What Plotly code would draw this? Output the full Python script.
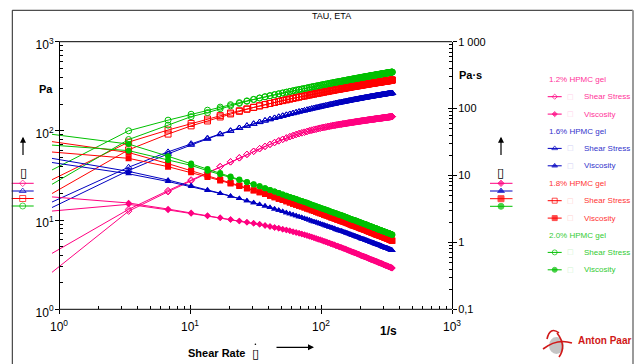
import plotly.graph_objects as go

# ---------------- data ----------------
# first entry is the start-up point of each run, lying left of the visible range
shear_rate = [0.1, 3.4, 6.8, 10.2, 13.6, 17.0, 20.4, 23.8, 27.2, 30.6, 34.0, 37.4, 40.8, 44.2, 47.6,
              51.0, 54.4, 57.8, 61.2, 64.6, 68.0, 71.4, 74.8, 78.2, 81.6, 85.0, 88.4, 91.8, 95.2,
              98.6, 102.0, 105.4, 108.8, 112.2, 115.6, 119.0, 122.4, 125.8, 129.2, 132.6, 136.0,
              139.4, 142.8, 146.2, 149.6, 153.0, 156.4, 159.8, 163.2, 166.6, 170.0, 173.4, 176.8,
              180.2, 183.6, 187.0, 190.4, 193.8, 197.2, 200.6, 204.0, 207.4, 210.8, 214.2, 217.6,
              221.0, 224.4, 227.8, 231.2, 234.6, 238.0, 241.4, 244.8, 248.2, 251.6, 255.0, 258.4,
              261.8, 265.2, 268.6, 272.0, 275.4, 278.8, 282.2, 285.6, 289.0, 292.4, 295.8, 299.2,
              302.6, 306.0, 309.4, 312.8, 316.2, 319.6, 323.0, 326.4, 329.8, 333.2, 336.6, 340.0,
              343.4, 346.8, 350.2]

# 1.2 % HPMC gel
tau_12_a = [0.673, 13.20, 21.43, 28.18, 34.28, 39.81, 44.98, 49.89, 54.58, 59.02, 63.24, 67.04, 70.63,
            74.05, 77.30, 80.39, 83.29, 86.04, 88.63, 91.05, 93.33, 95.06, 96.80, 98.53, 100.3, 102.0,
            103.3, 104.6, 106.0, 107.3, 108.6, 109.6, 110.6, 111.6, 112.6, 113.6, 114.4, 115.2, 116.1,
            116.9, 117.7, 118.4, 119.0, 119.7, 120.3, 121.0, 121.6, 122.3, 122.9, 123.6, 124.2, 124.7,
            125.2, 125.8, 126.3, 126.8, 127.3, 127.8, 128.4, 128.9, 129.4, 129.8, 130.3, 130.7, 131.2,
            131.6, 132.0, 132.5, 132.9, 133.4, 133.8, 134.2, 134.5, 134.9, 135.3, 135.7, 136.0, 136.4,
            136.8, 137.1, 137.5, 137.8, 138.2, 138.5, 138.8, 139.2, 139.5, 139.8, 140.1, 140.5, 140.8,
            141.1, 141.4, 141.7, 142.0, 142.4, 142.7, 143.0, 143.3, 143.6, 143.9, 144.2, 144.4, 144.7]
eta_12_a = [6.73, 3.88, 3.151, 2.763, 2.521, 2.342, 2.205, 2.096, 2.007, 1.929, 1.860, 1.792, 1.731,
            1.675, 1.624, 1.576, 1.531, 1.489, 1.448, 1.410, 1.373, 1.338, 1.304, 1.269, 1.235, 1.200,
            1.173, 1.146, 1.118, 1.091, 1.064, 1.042, 1.020, 0.999, 0.977, 0.955, 0.937, 0.919, 0.902,
            0.884, 0.866, 0.853, 0.839, 0.826, 0.812, 0.799, 0.785, 0.772, 0.758, 0.745, 0.731, 0.721,
            0.712, 0.702, 0.692, 0.683, 0.673, 0.663, 0.653, 0.644, 0.634, 0.627, 0.620, 0.612, 0.605,
            0.598, 0.591, 0.584, 0.576, 0.569, 0.562, 0.556, 0.551, 0.545, 0.540, 0.534, 0.528, 0.523,
            0.517, 0.512, 0.506, 0.501, 0.497, 0.492, 0.488, 0.483, 0.478, 0.474, 0.469, 0.465, 0.460,
            0.456, 0.453, 0.449, 0.445, 0.442, 0.438, 0.434, 0.430, 0.427, 0.423, 0.420, 0.416, 0.413]
tau_12_b = [0.2017, 12.6, 20.8, 27.6, 33.9, 39.81, 44.98, 49.89, 54.58, 59.02] + tau_12_a[10:]
eta_12_b = [2.02, 3.71, 3.06, 2.71, 2.49, 2.342, 2.205, 2.096, 2.007, 1.929] + eta_12_a[10:]

# 1.6 % HPMC gel
tau_16_a = [3.72, 39.16, 58.17, 72.0, 83.1, 92.5, 100.6, 107.8, 114.3, 120.2, 125.6, 130.6, 135.3,
            139.7, 143.8, 147.6, 151.3, 154.8, 158.1, 161.2, 164.3, 167.0, 169.6, 172.3, 174.9, 177.6,
            179.8, 182.0, 184.3, 186.5, 188.7, 190.6, 192.5, 194.5, 196.4, 198.3, 200.0, 201.7, 203.3,
            205.0, 206.7, 208.1, 209.5, 210.9, 212.3, 213.7, 215.1, 216.5, 217.9, 219.3, 220.7, 221.8,
            223.0, 224.1, 225.3, 226.4, 227.5, 228.7, 229.8, 231.0, 232.1, 233.1, 234.0, 235.0, 236.0,
            237.0, 237.9, 238.9, 239.9, 240.8, 241.8, 242.6, 243.5, 244.3, 245.1, 246.0, 246.8, 247.6,
            248.4, 249.3, 250.1, 250.8, 251.6, 252.3, 253.0, 253.8, 254.5, 255.2, 255.9, 256.7, 257.4,
            258.0, 258.7, 259.3, 260.0, 260.6, 261.2, 261.9, 262.5, 263.2, 263.8, 264.4, 265.1, 265.7]
eta_16_a = [37.2, 11.52, 8.55, 7.06, 6.11, 5.44, 4.93, 4.53, 4.20, 3.93, 3.69, 3.49, 3.32, 3.16, 3.02,
            2.895, 2.782, 2.678, 2.583, 2.496, 2.415, 2.350, 2.285, 2.219, 2.154, 2.089, 2.041, 1.993,
            1.946, 1.898, 1.850, 1.813, 1.776, 1.740, 1.703, 1.666, 1.637, 1.608, 1.578, 1.549, 1.520,
            1.498, 1.476, 1.453, 1.431, 1.409, 1.387, 1.365, 1.342, 1.320, 1.298, 1.282, 1.266, 1.250,
            1.234, 1.218, 1.202, 1.186, 1.170, 1.154, 1.138, 1.126, 1.114, 1.101, 1.089, 1.077, 1.065,
            1.053, 1.040, 1.028, 1.016, 1.006, 0.997, 0.987, 0.977, 0.968, 0.958, 0.948, 0.938, 0.929,
            0.919, 0.911, 0.903, 0.896, 0.888, 0.880, 0.872, 0.864, 0.857, 0.849, 0.841, 0.835, 0.828,
            0.822, 0.815, 0.809, 0.802, 0.796, 0.789, 0.783, 0.776, 0.770, 0.765, 0.759]
tau_16_b = [2.94, 36.0, 55.3, 69.8, 81.4, 91.6, 100.1, 107.8, 114.3, 120.2] + tau_16_a[10:]
eta_16_b = [29.4, 10.59, 8.13, 6.84, 5.99, 5.39, 4.91, 4.53, 4.20, 3.93] + eta_16_a[10:]

# 1.8 % HPMC gel
tau_18_a = [5.90, 74.9, 102.3, 121.2, 136.0, 148.4, 158.9, 168.2, 176.5, 184.1, 190.9, 197.3, 203.2,
            208.7, 213.9, 218.8, 223.4, 227.8, 232.0, 235.9, 239.8, 243.2, 246.5, 249.9, 253.2, 256.6,
            259.4, 262.2, 265.0, 267.8, 270.6, 273.0, 275.5, 277.9, 280.4, 282.8, 284.9, 287.0, 289.2,
            291.3, 293.4, 295.2, 297.1, 298.9, 300.7, 302.6, 304.4, 306.2, 308.0, 309.9, 311.7, 313.2,
            314.7, 316.2, 317.7, 319.2, 320.7, 322.2, 323.7, 325.2, 326.7, 328.0, 329.2, 330.5, 331.8,
            333.1, 334.3, 335.6, 336.9, 338.1, 339.4, 340.5, 341.6, 342.7, 343.8, 345.0, 346.1, 347.2,
            348.3, 349.4, 350.5, 351.5, 352.5, 353.4, 354.4, 355.4, 356.4, 357.4, 358.3, 359.3, 360.3,
            361.2, 362.1, 362.9, 363.8, 364.7, 365.6, 366.5, 367.3, 368.2, 369.1, 369.9, 370.8, 371.6]
eta_18_a = [59.0, 22.04, 15.04, 11.88, 10.00, 8.73, 7.79, 7.07, 6.49, 6.02, 5.62, 5.28, 4.98, 4.72,
            4.49, 4.29, 4.11, 3.94, 3.79, 3.65, 3.53, 3.428, 3.326, 3.224, 3.122, 3.02, 2.947, 2.874,
            2.800, 2.727, 2.654, 2.599, 2.543, 2.488, 2.432, 2.377, 2.333, 2.289, 2.246, 2.202, 2.158,
            2.126, 2.093, 2.061, 2.028, 1.996, 1.963, 1.931, 1.898, 1.866, 1.833, 1.810, 1.787, 1.763,
            1.740, 1.717, 1.694, 1.671, 1.647, 1.624, 1.601, 1.584, 1.566, 1.549, 1.531, 1.514, 1.496,
            1.479, 1.461, 1.444, 1.426, 1.412, 1.398, 1.385, 1.371, 1.357, 1.343, 1.329, 1.316, 1.302,
            1.288, 1.277, 1.266, 1.255, 1.244, 1.233, 1.222, 1.211, 1.200, 1.189, 1.178, 1.169, 1.160,
            1.150, 1.141, 1.132, 1.123, 1.114, 1.104, 1.095, 1.086, 1.078, 1.069, 1.061]
tau_18_b = [3.19, 61.4, 92.1, 113.9, 129.2, 143.2, 154.9, 165.7, 174.7, 183.2] + tau_18_a[10:]
eta_18_b = [31.9, 18.06, 13.54, 11.17, 9.50, 8.42, 7.59, 6.96, 6.42, 5.99] + eta_18_a[10:]

# 2.0 % HPMC gel
tau_20_a = [7.10, 100.3, 131.9, 153.7, 170.7, 184.8, 196.8, 207.6, 217.1, 225.8, 233.8, 241.2, 248.0,
            254.5, 260.4, 266.2, 271.6, 276.7, 281.6, 286.4, 290.8, 294.8, 298.9, 302.9, 307.0, 311.0,
            314.4, 317.8, 321.3, 324.7, 328.1, 331.0, 334.0, 336.9, 339.9, 342.8, 345.4, 348.1, 350.7,
            353.4, 356.0, 358.3, 360.5, 362.8, 365.0, 367.3, 369.6, 371.8, 374.1, 376.3, 378.6, 380.5,
            382.4, 384.3, 386.2, 388.1, 389.9, 391.8, 393.7, 395.6, 397.5, 399.2, 400.8, 402.5, 404.1,
            405.8, 407.4, 409.1, 410.7, 412.4, 414.0, 415.5, 416.9, 418.4, 419.8, 421.3, 422.7, 424.2,
            425.6, 427.1, 428.5, 429.8, 431.1, 432.4, 433.7, 435.0, 436.2, 437.5, 438.8, 440.1, 441.4,
            442.6, 443.7, 444.9, 446.1, 447.3, 448.4, 449.6, 450.8, 451.9, 453.1, 454.2, 455.4, 456.5]
eta_20_a = [71.0, 29.5, 19.40, 15.07, 12.55, 10.87, 9.65, 8.72, 7.98, 7.38, 6.88, 6.45, 6.08, 5.76,
            5.47, 5.22, 4.99, 4.79, 4.60, 4.44, 4.28, 4.156, 4.032, 3.908, 3.784, 3.66, 3.571, 3.482,
            3.394, 3.305, 3.216, 3.149, 3.082, 3.014, 2.947, 2.880, 2.828, 2.775, 2.723, 2.670, 2.618,
            2.579, 2.540, 2.501, 2.462, 2.423, 2.383, 2.344, 2.305, 2.266, 2.227, 2.199, 2.171, 2.144,
            2.116, 2.088, 2.060, 2.032, 2.005, 1.977, 1.949, 1.928, 1.907, 1.886, 1.865, 1.844, 1.823,
            1.802, 1.781, 1.760, 1.739, 1.723, 1.706, 1.690, 1.673, 1.657, 1.641, 1.624, 1.608, 1.591,
            1.575, 1.562, 1.549, 1.535, 1.522, 1.509, 1.496, 1.483, 1.469, 1.456, 1.443, 1.432, 1.421,
            1.410, 1.399, 1.388, 1.376, 1.365, 1.354, 1.343, 1.332, 1.322, 1.313, 1.303]
tau_20_b = [3.88, 80.0, 116.0, 144.5, 160.5, 177.4, 190.9, 203.4, 214.9, 224.7] + tau_20_a[10:]
eta_20_b = [38.8, 23.53, 17.06, 14.17, 11.80, 10.44, 9.36, 8.55, 7.90, 7.34] + eta_20_a[10:]

sample_names = ["1.2% HPMC gel", "1.6% HPMC gel", "1.8% HPMC gel", "2.0% HPMC gel"]
x_tick_vals = [1, 10, 100, 1000]
x_tick_text = ["10<sup>0</sup>", "10<sup>1</sup>", "10<sup>2</sup>", "10<sup>3</sup>"]
tau_tick_vals = [1, 10, 100, 1000]
tau_tick_text = ["10<sup>0</sup>", "10<sup>1</sup>", "10<sup>2</sup>", "10<sup>3</sup>"]
eta_tick_vals = [0.1, 1, 10, 100, 1000]
eta_tick_text = ["0,1", "1", "10", "100", "1 000"]

# ---------------- styling ----------------
W, H = 639, 364
FONT = "Arial, Liberation Sans, sans-serif"


def px(x):
    return x / W


def py(y):
    return 1 - y / H


PINK, BLUE, RED, GREEN = "#FF0080", "#0000C0", "#FF0000", "#00C000"
TXT = {PINK: "#FF3399", BLUE: "#3333CC", RED: "#FF3333", GREEN: "#33CC33"}
LIGHT = {PINK: "#FFD0E8", BLUE: "#D0D0F4", RED: "#FFD0D0", GREEN: "#D0F4D0"}

samples = [
    (PINK, "diamond", 5, tau_12_a, tau_12_b, eta_12_a, eta_12_b),
    (BLUE, "triangle-up", 6, tau_16_a, tau_16_b, eta_16_a, eta_16_b),
    (RED, "square", 6, tau_18_a, tau_18_b, eta_18_a, eta_18_b),
    (GREEN, "circle", 6, tau_20_a, tau_20_b, eta_20_a, eta_20_b),
]

fig = go.Figure()
for col, sym, size, ta, tb, ea, eb in samples:
    for t in (ta, tb):
        fig.add_trace(go.Scatter(
            x=shear_rate, y=t, mode="lines+markers", xaxis="x", yaxis="y",
            line=dict(color=col, width=1),
            marker=dict(symbol=sym + "-open", size=size, color=col, line=dict(color=col, width=1)),
            hoverinfo="skip", showlegend=False))
    for e in (ea, eb):
        fig.add_trace(go.Scatter(
            x=shear_rate, y=e, mode="lines+markers", xaxis="x", yaxis="y2",
            line=dict(color=col, width=1),
            marker=dict(symbol=sym, size=size, color=col, line=dict(width=0)),
            hoverinfo="skip", showlegend=False))

# empty traces so the helper axes (crossing ticks) are drawn
fig.add_trace(go.Scatter(x=[], y=[], xaxis="x", yaxis="y3", showlegend=False))
fig.add_trace(go.Scatter(x=[], y=[], xaxis="x", yaxis="y4", showlegend=False))
fig.add_trace(go.Scatter(x=[], y=[], xaxis="x2", yaxis="y", showlegend=False))

# ---------------- key swatches (pixel overlay axis) ----------------
left_key_y = [183.3, 191.0, 198.5, 206.0]
right_key_y = [183.3, 191.0, 198.7, 206.3]
legend_title_y = [79.3, 131.0, 183.3, 235.0]
ROW = 17.4
for i, (col, sym, size, *_r) in enumerate(samples):
    for xs, yy, s in (([11.7, 22.7, 33.7], left_key_y[i], sym + "-open"),
                      ([490.0, 501.0, 512.5], right_key_y[i], sym)):
        fig.add_trace(go.Scatter(
            x=xs, y=[yy] * 3, mode="lines+markers", xaxis="x9", yaxis="y9",
            line=dict(color=col, width=1),
            marker=dict(symbol=s, size=[0, size, 0], color=col, line=dict(color=col, width=1)),
            hoverinfo="skip", showlegend=False))
    for j, s in enumerate((sym + "-open", sym)):
        yy = legend_title_y[i] + ROW * (j + 1)
        fig.add_trace(go.Scatter(
            x=[547.7, 554.7, 561.7], y=[yy] * 3, mode="lines+markers", xaxis="x9", yaxis="y9",
            line=dict(color=col, width=1),
            marker=dict(symbol=s, size=[0, size - 1, 0], color=col, line=dict(color=col, width=1)),
            hoverinfo="skip", showlegend=False))

minor_dec = [m * 10.0 ** e for e in range(-1, 3) for m in range(2, 10)]

axis_common = dict(type="log", showgrid=False, zeroline=False, tickcolor="black", linecolor="black",
                   linewidth=1, automargin=False)

fig.update_layout(
    width=W, height=H, margin=dict(l=0, r=0, t=0, b=0, autoexpand=False),
    paper_bgcolor="white", plot_bgcolor="rgba(0,0,0,0)", showlegend=False,
    font=dict(family=FONT, color="black"),
    xaxis=dict(**axis_common, range=[-0.0534, 3], domain=[px(52), px(452)], anchor="y",
               showline=False, tickmode="array", tickvals=x_tick_vals, ticktext=x_tick_text,
               ticks="inside", ticklen=4, tickfont=dict(size=12), ticklabelstandoff=9,
               minor=dict(tickmode="array", tickvals=minor_dec, ticks="inside", ticklen=3,
                          tickcolor="black", showgrid=False)),
    xaxis2=dict(**axis_common, range=[-0.0534, 3], overlaying="x", anchor="y", showline=False,
                tickmode="array", tickvals=x_tick_vals, ticks="outside", ticklen=4,
                showticklabels=False),
    yaxis=dict(**axis_common, range=[0, 3], domain=[py(309.3), py(41.7)], anchor="free",
               position=px(59), side="left", showline=True, tickmode="array",
               tickvals=tau_tick_vals, ticktext=tau_tick_text, ticks="inside", ticklen=4,
               tickfont=dict(size=12), ticklabelstandoff=3, ticklabelshift=3,
               minor=dict(tickmode="array", tickvals=minor_dec, ticks="inside", ticklen=3,
                          tickcolor="black", showgrid=False)),
    yaxis3=dict(**axis_common, range=[0, 3], overlaying="y", anchor="free", position=px(59),
                side="left", showline=False, tickmode="array", tickvals=tau_tick_vals,
                ticks="outside", ticklen=4, showticklabels=False),
    yaxis2=dict(**axis_common, range=[-1, 3], overlaying="y", anchor="x", side="right",
                showline=True, tickmode="array", tickvals=eta_tick_vals, ticktext=eta_tick_text,
                ticks="inside", ticklen=4, tickfont=dict(size=11), ticklabelstandoff=3,
                minor=dict(tickmode="array", tickvals=minor_dec, ticks="inside", ticklen=3,
                           tickcolor="black", showgrid=False)),
    yaxis4=dict(**axis_common, range=[-1, 3], overlaying="y", anchor="x", side="right",
                showline=False, tickmode="array", tickvals=eta_tick_vals, ticks="outside",
                ticklen=4, showticklabels=False),
    xaxis9=dict(domain=[0, 1], range=[0, W], visible=False, anchor="y9", fixedrange=True),
    yaxis9=dict(domain=[0, 1], range=[H, 0], visible=False, anchor="x9", fixedrange=True),
)

shapes = []


def hline(x0, x1, y, color="black", width=1):
    shapes.append(dict(type="line", xref="paper", yref="paper", x0=px(x0), x1=px(x1),
                       y0=py(y), y1=py(y), line=dict(color=color, width=width)))


def vline(x, y0, y1, color="black", width=1):
    shapes.append(dict(type="line", xref="paper", yref="paper", x0=px(x), x1=px(x),
                       y0=py(y0), y1=py(y1), line=dict(color=color, width=width)))


# outer frame
hline(12.3, 633, 10.3, "#222222", 1)
vline(12.3, 10.3, 366, "#222222", 1)
vline(633, 10.3, 366, "#9A9A9A", 2)
# plot box top / bottom lines
hline(59, 452, 41.7)
hline(59, 452, 309.3)
# dot above the shear-rate symbol
shapes.append(dict(type="circle", xref="paper", yref="paper", x0=px(254.6), x1=px(256.2),
                   y0=py(345.0), y1=py(343.4), fillcolor="black", line=dict(width=0)))

# logo
shapes.append(dict(type="circle", xref="paper", yref="paper", x0=px(549), x1=px(564),
                   y0=py(354), y1=py(337), fillcolor="#C4C4C4", line=dict(width=0)))


def path_px(points):
    d = "M {:.4f},{:.4f}".format(px(points[0][0]), py(points[0][1]))
    for (a, b), (c, e) in zip(points[1::2], points[2::2]):
        d += " Q {:.4f},{:.4f} {:.4f},{:.4f}".format(px(a), py(b), px(c), py(e))
    return d


for pts in ([(547, 339), (550, 326), (559, 333)],
            [(543, 349), (557, 338), (572, 343)],
            [(557, 333), (567, 346), (559, 357)]):
    shapes.append(dict(type="path", xref="paper", yref="paper", path=path_px(pts),
                       line=dict(color="#D01818", width=1.6)))

annotations = []


def text(s, x, y, size, color="black", xanchor="center", bold=False, family=FONT):
    if bold:
        s = "<b>" + s + "</b>"
    annotations.append(dict(text=s, x=px(x), y=py(y), xref="paper", yref="paper",
                            xanchor=xanchor, yanchor="middle", showarrow=False,
                            font=dict(size=size, color=color, family=family), borderpad=0))


def arrow(x, y, ax, ay):
    annotations.append(dict(text="", x=px(x), y=py(y), xref="paper", yref="paper",
                            ax=ax - x, ay=ay - y, showarrow=True, arrowhead=2, arrowsize=1,
                            arrowwidth=1.2, arrowcolor="black"))


text("TAU, ETA", 332, 15.7, 9)
text("Pa", 46, 88.5, 11, bold=True)
text("Pa·s", 470, 75, 11, bold=True)
text("1/s", 388, 330.7, 12, bold=True)
text("Shear Rate", 187, 352.7, 11, bold=True, xanchor="left")
text("▯", 255.4, 353.2, 13, bold=True, family="DejaVu Sans")
arrow(314, 347.3, 275, 347.3)
arrow(23, 136.7, 23, 156.5)
arrow(501, 136.7, 501, 156.5)
text("▯", 23.3, 172.5, 13, bold=True, family="DejaVu Sans")
text("▯", 500.8, 172.8, 13, bold=True, family="DejaVu Sans")

for i, (col, *_r) in enumerate(samples):
    ty = legend_title_y[i]
    text(sample_names[i], 548, ty, 8, TXT[col], xanchor="left")
    for j, lab in enumerate(("Shear Stress", "Viscosity")):
        yy = ty + ROW * (j + 1)
        text("□", 570.7, yy, 7, LIGHT[col], family="DejaVu Sans")
        text(lab, 582.7, yy, 8, TXT[col], xanchor="left")

text("Anton Paar", 577, 340.5, 10, "#D01818", xanchor="left", bold=True)

fig.update_layout(shapes=shapes, annotations=annotations)
fig.write_html("out.html", config={"displayModeBar": False},
               post_script="document.body.style.margin='0px';")
